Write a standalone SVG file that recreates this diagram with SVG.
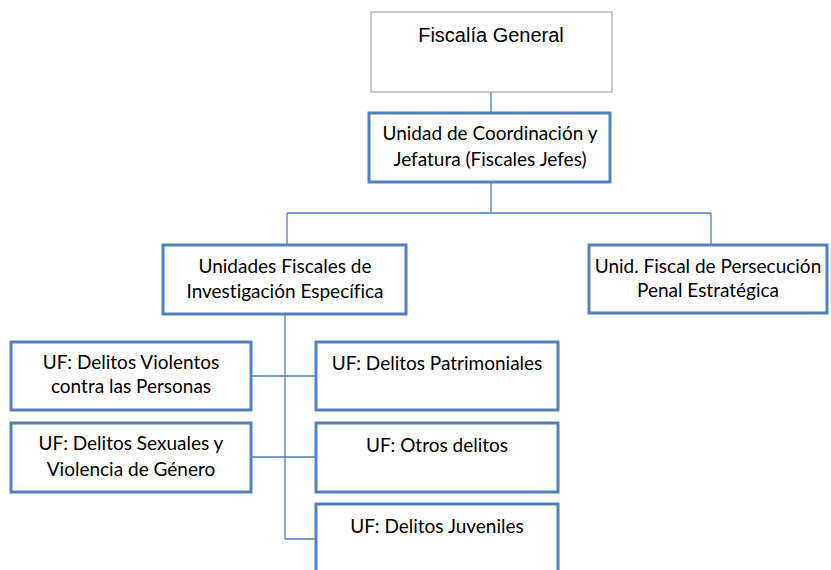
<svg xmlns="http://www.w3.org/2000/svg" width="831" height="570" viewBox="0 0 831 570">
<style>
.box{fill:#fff;stroke:#4f81bd;stroke-width:3}
.gbox{fill:#fff;stroke:#a6a6a6;stroke-width:1.2}
.t{font-family:Lato,"Liberation Sans",sans-serif;font-size:19px;fill:#000;text-anchor:middle;font-variant-ligatures:none}
.ta{font-family:"Liberation Sans",Arial,sans-serif;font-size:20px;fill:#000;text-anchor:middle}
.c{fill:none;stroke:#4a7ebb;stroke-width:1.3}
</style>
<rect width="831" height="570" fill="#fff"/>
<g id="connectors">
<path class="c" d="M491 92V113"/>
<path class="c" d="M491 182V213M287 213H711M287 213V245M711 213V245"/>
<path class="c" d="M285 314V539M251 376H316M251 457H316M285 539H316"/>
</g>
<g id="fiscalia">
<rect class="gbox" x="371" y="12" width="241" height="80"/>
<text class="ta" x="491" y="42">Fiscalía General</text>
</g>
<g id="coordinacion">
<rect class="box" x="369" y="113" width="241" height="69"/>
<text class="t" x="490" y="140">Unidad de Coordinación y</text>
<text class="t" x="490" y="166">Jefatura (Fiscales Jefes)</text>
</g>
<g id="especifica">
<rect class="box" x="163" y="245" width="243" height="69"/>
<text class="t" x="285" y="273">Unidades Fiscales de</text>
<text class="t" x="285" y="298">Investigación Específica</text>
</g>
<g id="estrategica">
<rect class="box" x="589" y="245" width="238" height="68"/>
<text class="t" x="708" y="273">Unid. Fiscal de Persecución</text>
<text class="t" x="708" y="297">Penal Estratégica</text>
</g>
<g id="violentos">
<rect class="box" x="11" y="342" width="240" height="68"/>
<text class="t" x="131" y="369">UF: Delitos Violentos</text>
<text class="t" x="131" y="393">contra las Personas</text>
</g>
<g id="sexuales">
<rect class="box" x="11" y="423" width="240" height="69"/>
<text class="t" x="131" y="450">UF: Delitos Sexuales y</text>
<text class="t" x="131" y="476">Violencia de Género</text>
</g>
<g id="patrimoniales">
<rect class="box" x="316" y="342" width="242" height="68"/>
<text class="t" x="437" y="370">UF: Delitos Patrimoniales</text>
</g>
<g id="otros">
<rect class="box" x="316" y="423" width="242" height="69"/>
<text class="t" x="437" y="452">UF: Otros delitos</text>
</g>
<g id="juveniles">
<rect class="box" x="316" y="504" width="242" height="80"/>
<text class="t" x="437" y="533">UF: Delitos Juveniles</text>
</g>
</svg>
